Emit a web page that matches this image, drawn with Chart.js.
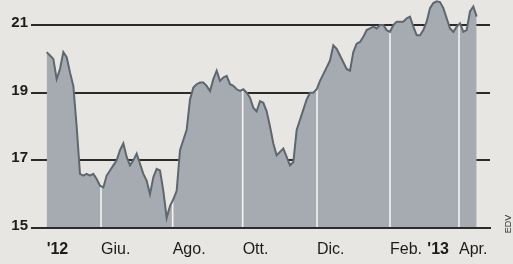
<!DOCTYPE html>
<html>
<head>
<meta charset="utf-8">
<script src="https://cdn.jsdelivr.net/npm/chart.js@4"></script>
<style>
  html, body { margin: 0; padding: 0; background: #e8e6e2; }
  #wrap { width: 513px; height: 264px; }
</style>
</head>
<body>
<div id="wrap"><canvas id="chart" width="513" height="264"></canvas></div>
<script>
// price at regular steps from mid-April 2012 to mid-April 2013
var prices = [
  20.2, 20.1, 20.0, 19.4, 19.7, 20.2, 20.05, 19.6, 19.2, 18.0,
  16.6, 16.55, 16.6, 16.55, 16.6, 16.45, 16.25, 16.2, 16.55, 16.7,
  16.85, 17.0, 17.3, 17.5, 17.1, 16.85, 17.0, 17.2, 16.9, 16.6,
  16.4, 16.0, 16.5, 16.75, 16.7, 16.1, 15.3, 15.65, 15.85, 16.1,
  17.3, 17.6, 17.9, 18.8, 19.15, 19.25, 19.3, 19.3, 19.2, 19.05,
  19.4, 19.65, 19.35, 19.45, 19.5, 19.25, 19.2, 19.1, 19.05, 19.1,
  19.0, 18.85, 18.55, 18.45, 18.75, 18.7, 18.45, 18.0, 17.5, 17.15,
  17.25, 17.35, 17.1, 16.85, 16.95, 17.9, 18.2, 18.5, 18.8, 19.0,
  19.0, 19.1, 19.35, 19.55, 19.75, 19.95, 20.4, 20.3, 20.1, 19.9,
  19.7, 19.65, 20.2, 20.45, 20.5, 20.65, 20.85, 20.9, 20.95, 20.9,
  21.0, 21.0, 20.85, 20.8, 21.0, 21.1, 21.1, 21.1, 21.2, 21.25,
  20.95, 20.7, 20.7, 20.85, 21.1, 21.5, 21.65, 21.7, 21.68, 21.5,
  21.2, 20.9, 20.8, 20.95, 21.05, 20.8, 20.85, 21.4, 21.55, 21.25
];
var steps = prices.map(function(p, i) { return i; });

var tickValues = [0, 16.3, 37.8, 58.8, 81.1, 103.0, 114.2, 123.7];
var tickLabels = ["'12", "Giu.", "Ago.", "Ott.", "Dic.", "Feb.", "'13", "Apr."];
var yearLabels = ["'12", "'13"];
var monthLines = [16.3, 37.8, 58.8, 81.1, 103.0, 123.7];
var yTicks = [15, 17, 19, 21];

var fontFamily = "'Liberation Sans', Arial, sans-serif";

// white month separators, only inside the filled area
var separators = {
  id: 'separators',
  beforeDatasetsDraw: function(chart) {
    var ctx = chart.ctx, area = chart.chartArea, xs = chart.scales.x;
    var pts = chart.getDatasetMeta(0).data;
    ctx.save();
    ctx.beginPath();
    ctx.moveTo(pts[0].x, area.bottom);
    pts.forEach(function(p) { ctx.lineTo(p.x, p.y); });
    ctx.lineTo(pts[pts.length - 1].x, area.bottom);
    ctx.closePath();
    ctx.clip();
    ctx.strokeStyle = '#f4f3f1';
    ctx.lineWidth = 1.6;
    monthLines.forEach(function(v) {
      var px = xs.getPixelForValue(v);
      ctx.beginPath();
      ctx.moveTo(px, area.top);
      ctx.lineTo(px, area.bottom);
      ctx.stroke();
    });
    ctx.restore();
  },
  afterDraw: function(chart) {
    var ctx = chart.ctx;
    ctx.save();
    ctx.translate(509, 224);
    ctx.rotate(-Math.PI / 2);
    ctx.font = '9px ' + fontFamily;
    ctx.fillStyle = '#333';
    ctx.textAlign = 'center';
    ctx.textBaseline = 'middle';
    ctx.fillText('EDV', 0, 0);
    ctx.restore();
  }
};

var chart = new Chart('chart', {
  type: 'line',
  data: {
    labels: steps,
    datasets: [{
      data: prices,
      fill: 'start',
      backgroundColor: '#a5abb1',
      borderColor: '#5f676e',
      borderWidth: 2,
      pointRadius: 0,
      tension: 0
    }]
  },
  options: {
    responsive: false,
    animation: false,
    devicePixelRatio: 1,
    layout: { padding: { left: 0, right: 23, top: 0, bottom: 0 } },
    plugins: {
      legend: { display: false },
      tooltip: { enabled: false },
      filler: { drawTime: 'beforeDatasetsDraw' }
    },
    scales: {
      x: {
        type: 'linear',
        min: -3.5,
        max: 133,
        grid: { display: false },
        border: { display: true, color: '#2b2b2b', width: 2, z: 1 },
        afterBuildTicks: function(scale) {
          scale.ticks = tickValues.map(function(v) { return { value: v }; });
        },
        afterFit: function(scale) {
          scale.height = 36;
          scale.paddingLeft = 0;
          scale.paddingRight = 0;
        },
        ticks: {
          autoSkip: false,
          maxRotation: 0,
          align: 'start',
          padding: 4,
          color: '#1c1c1c',
          font: function(c) {
            var bold = c.tick && yearLabels.indexOf(tickLabels[c.index]) >= 0;
            return { family: fontFamily, size: 16, weight: bold ? 'bold' : 'normal' };
          },
          callback: function(value, index) { return tickLabels[index]; }
        }
      },
      y: {
        min: 15,
        max: 21.74,
        grid: { color: '#2b2b2b', lineWidth: 2, drawTicks: true, tickLength: 4 },
        border: { display: false },
        afterBuildTicks: function(scale) {
          scale.ticks = yTicks.map(function(v) { return { value: v }; });
        },
        afterFit: function(scale) {
          scale.width = 35;
          scale.paddingTop = 0;
          scale.paddingBottom = 0;
        },
        ticks: {
          padding: 3,
          labelOffset: -2,
          color: '#1c1c1c',
          font: { family: fontFamily, size: 15, weight: 'bold' },
          callback: function(value) { return value; }
        }
      }
    }
  },
  plugins: [separators]
});
</script>
</body>
</html>
